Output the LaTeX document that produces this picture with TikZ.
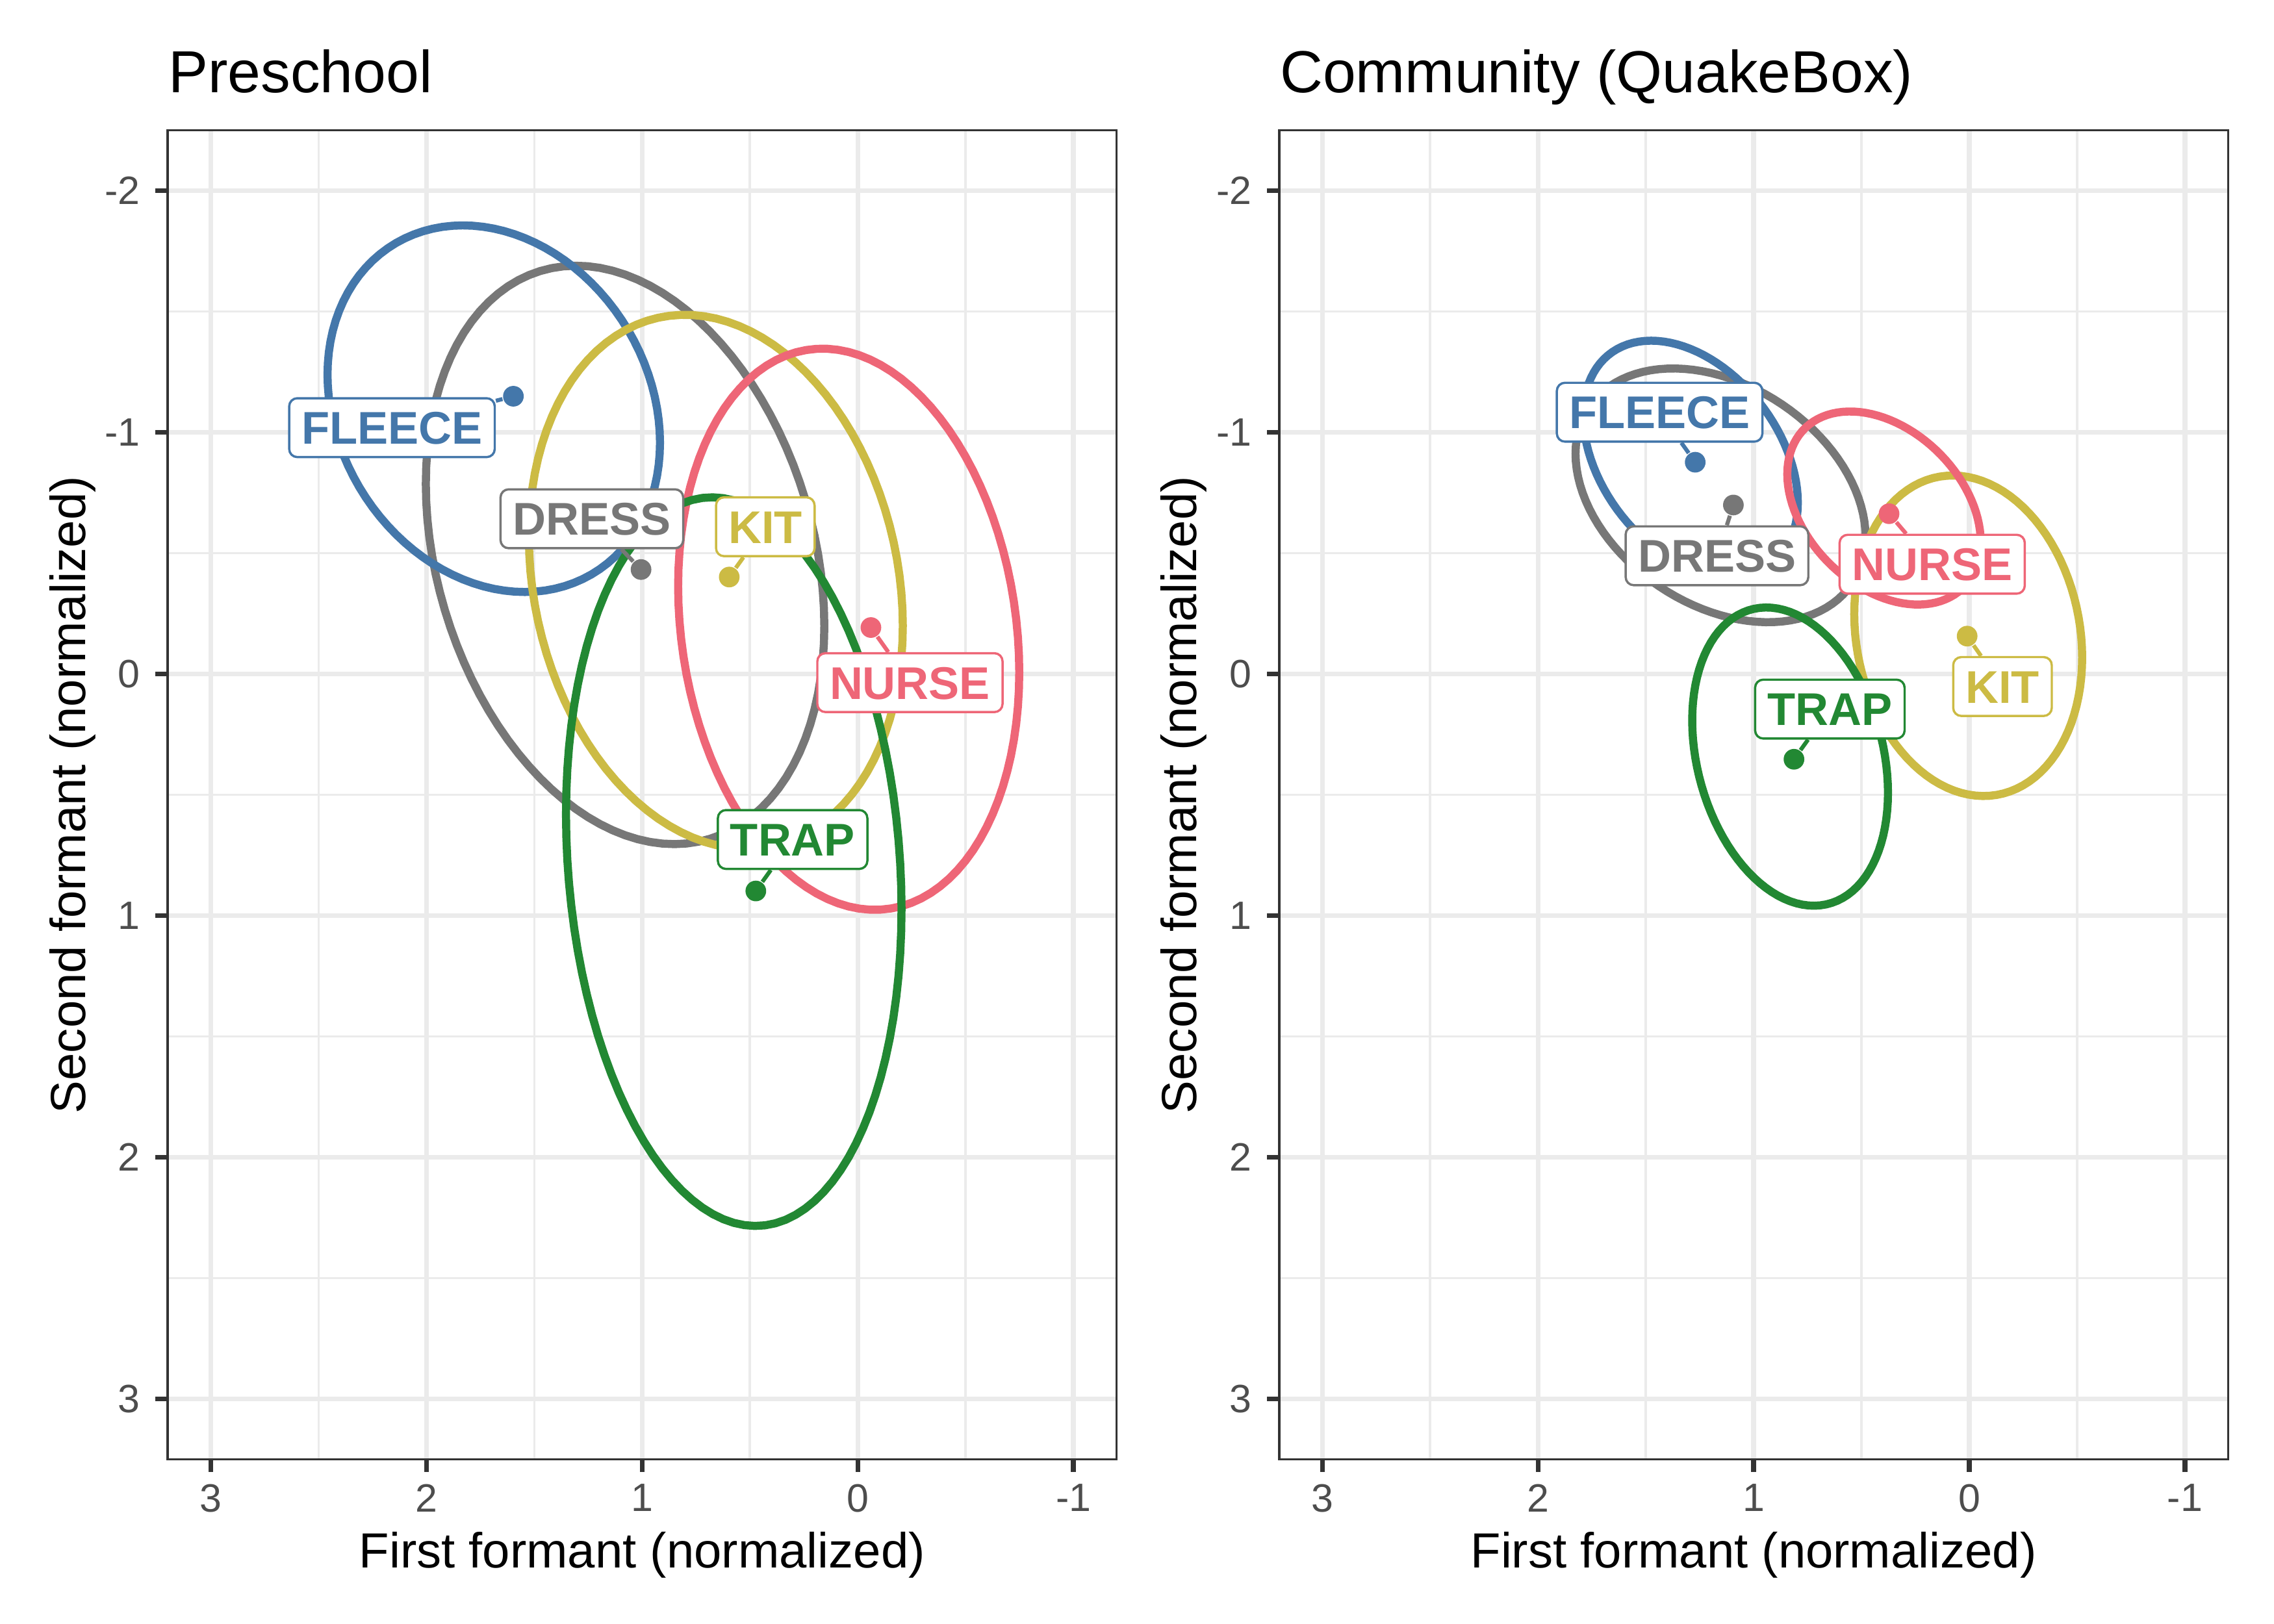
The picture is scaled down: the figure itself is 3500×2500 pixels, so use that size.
\documentclass[tikz,border=0pt]{standalone}
\usepackage{fontspec}
\setmainfont{Liberation Sans}
\definecolor{fleececol}{HTML}{4477AA}
\definecolor{dresscol}{HTML}{777777}
\definecolor{kitcol}{HTML}{CCBB44}
\definecolor{nursecol}{HTML}{EE6677}
\definecolor{trapcol}{HTML}{228833}
\definecolor{gridcol}{HTML}{EBEBEB}
\definecolor{framecol}{HTML}{333333}
\definecolor{ticktext}{HTML}{4D4D4D}
% ellipse from centre (#2,#3), x half axis #4, y = #5 cos + #6 sin
\newcommand{\vowelring}[6]{%
  \draw[ring,#1] plot[domain=0:360,samples=101]
    ({(#2)+(#4)*cos(\x)},{(#3)+(#5)*cos(\x)+(#6)*sin(\x)}) -- cycle;}
\begin{document}
\begin{tikzpicture}[x=0.00508cm,y=-0.00508cm,
    ring/.style={line width=1.8pt,line join=round},
    minorgrid/.style={gridcol,line width=0.53pt},
    majorgrid/.style={gridcol,line width=1.07pt},
    panelframe/.style={framecol,line width=0.5pt},
    tickmark/.style={framecol,line width=1.07pt},
    ticklabel/.style={text=ticktext,font=\fontsize{8.8}{10}\selectfont,inner sep=0pt},
    axistitle/.style={font=\fontsize{11}{13}\selectfont,inner sep=0pt},
    paneltitle/.style={font=\fontsize{13.2}{16}\selectfont,inner sep=0pt,anchor=base west},
    meanpt/.style={circle,fill=#1,inner sep=0pt,minimum size=4.6pt},
    vowel/.style={draw=#1,text=#1,fill=white,line width=0.5pt,rounded corners=1.8pt,
      font=\fontsize{10.2}{12}\selectfont\bfseries,text height=7.3pt,text depth=0pt,
      inner xsep=2.75pt,inner ysep=2.9pt},
    leader/.style={#1,line width=0.9pt}]
  \useasboundingbox (0,0) rectangle (3500,2500);

  % grids
  \foreach \ox in {1320.2,3031.0}{
    \begin{scope}[shift={(\ox,1037.5)},x=-1.6863cm,y=-1.8903cm]
      \foreach \gx in {-0.5,0.5,...,2.5} \draw[minorgrid] (\gx,-2.25) -- (\gx,3.25);
      \foreach \gy in {-1.5,-0.5,...,2.5} \draw[minorgrid] (-1.2,\gy) -- (3.2,\gy);
      \foreach \gx in {-1,...,3} \draw[majorgrid] (\gx,-2.25) -- (\gx,3.25);
      \foreach \gy in {-2,...,3} \draw[majorgrid] (-1.2,\gy) -- (3.2,\gy);
    \end{scope}}

  % preschool
  \begin{scope}[shift={(1320.2,1037.5)},x=-1.6863cm,y=-1.8903cm]
    \vowelring{dresscol}{1.079}{-0.4925}{0.924}{-0.294}{1.160}
    \vowelring{fleececol}{1.688}{-1.0975}{0.771}{-0.1407}{0.7453}
    \vowelring{kitcol}{0.658}{-0.3815}{0.867}{-0.182}{1.0894}
    \vowelring{nursecol}{0.042}{-0.185}{0.791}{-0.1776}{1.1473}
    \vowelring{trapcol}{0.575}{0.7765}{0.778}{-0.1957}{1.4947}
    \node[meanpt=dresscol] (dressP) at (1.005,-0.432) {};
    \node[meanpt=fleececol] (fleeceP) at (1.597,-1.149) {};
    \node[meanpt=kitcol] (kitP) at (0.596,-0.401) {};
    \node[meanpt=nursecol] (nurseP) at (-0.061,-0.192) {};
    \node[meanpt=trapcol] (trapP) at (0.4727,0.898) {};
    \node[vowel=dresscol] (dressL) at (1.233,-0.642) {DRESS};
    \node[vowel=fleececol] (fleeceL) at (2.160,-1.019) {FLEECE};
    \node[vowel=kitcol] (kitL) at (0.4287,-0.609) {KIT};
    \node[vowel=nursecol] (nurseL) at (-0.242,0.036) {NURSE};
    \node[vowel=trapcol] (trapL) at (0.302,0.685) {TRAP};
    \draw[leader=dresscol] (dressP) -- (dressL);
    \draw[leader=fleececol] (fleeceP) -- (fleeceL);
    \draw[leader=kitcol] (kitP) -- (kitL);
    \draw[leader=nursecol] (nurseP) -- (nurseL);
    \draw[leader=trapcol] (trapP) -- (trapL);
  \end{scope}

  % community
  \begin{scope}[shift={(3031.0,1037.5)},x=-1.6863cm,y=-1.8903cm]
    \vowelring{dresscol}{1.1535}{-0.739}{0.6725}{-0.172}{0.496}
    \vowelring{fleececol}{1.2925}{-0.889}{0.4975}{-0.180}{0.4557}
    \vowelring{kitcol}{0.005}{-0.158}{0.5285}{-0.0897}{0.657}
    \vowelring{nursecol}{0.3955}{-0.6865}{0.4485}{-0.1403}{0.374}
    \vowelring{trapcol}{0.831}{0.342}{0.454}{-0.1495}{0.5986}
    \node[meanpt=dresscol] (dressQ) at (1.094,-0.699) {};
    \node[meanpt=fleececol] (fleeceQ) at (1.271,-0.876) {};
    \node[meanpt=kitcol] (kitQ) at (0.010,-0.1565) {};
    \node[meanpt=nursecol] (nurseQ) at (0.372,-0.663) {};
    \node[meanpt=trapcol] (trapQ) at (0.813,0.353) {};
    \node[vowel=dresscol] (dressM) at (1.170,-0.489) {DRESS};
    \node[vowel=fleececol] (fleeceM) at (1.436,-1.083) {FLEECE};
    \node[vowel=kitcol] (kitM) at (-0.154,0.052) {KIT};
    \node[vowel=nursecol] (nurseM) at (0.172,-0.454) {NURSE};
    \node[vowel=trapcol] (trapM) at (0.6465,0.1454) {TRAP};
    \draw[leader=dresscol] (dressQ) -- (dressM);
    \draw[leader=fleececol] (fleeceQ) -- (fleeceM);
    \draw[leader=kitcol] (kitQ) -- (kitM);
    \draw[leader=nursecol] (nurseQ) -- (nurseM);
    \draw[leader=trapcol] (trapQ) -- (trapM);
  \end{scope}

  % frames and axes
  \foreach \ox/\p in {1320.2/a,3031.0/b}{
    \begin{scope}[shift={(\ox,1037.5)},x=-1.6863cm,y=-1.8903cm]
      \draw[panelframe] (-1.2,-2.25) rectangle (3.2,3.25);
      \foreach \gx in {-1,...,3}{
        \draw[tickmark] (\gx,3.25) -- (\gx,3.301);
        \node[ticklabel,anchor=north] (xt\p\gx) at (\gx,3.349) {\gx};}
      \foreach \gy in {-2,...,3}{
        \draw[tickmark] (3.2,\gy) -- (3.257,\gy);
        \node[ticklabel,anchor=east] (yt\p\gy) at (3.324,\gy) {\gy};}
    \end{scope}}

  \node[paneltitle] (titleA) at (258,142.6) {Preschool};
  \node[paneltitle] (titleB) at (1968.8,142.6) {Community (QuakeBox)};
  \node[axistitle,anchor=base] (xtitleA) at (988.3,2413.5) {First formant (normalized)};
  \node[axistitle,anchor=base] (xtitleB) at (2699.1,2413.5) {First formant (normalized)};
  \node[axistitle,anchor=base,rotate=90] (ytitleA) at (131,1223.5) {Second formant (normalized)};
  \node[axistitle,anchor=base,rotate=90] (ytitleB) at (1841.8,1223.5) {Second formant (normalized)};
\end{tikzpicture}
\end{document}
